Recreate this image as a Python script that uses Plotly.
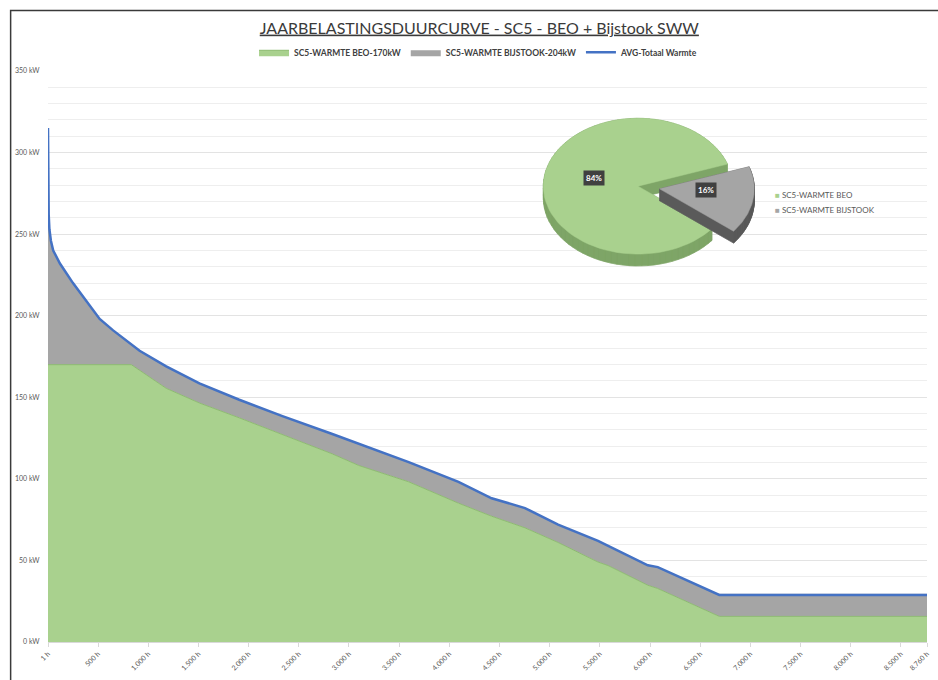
import math
import plotly.graph_objects as go

# ---- load duration curve data (hour rank -> kW) ----
hours_total = [1, 3, 8, 15, 30, 53, 120, 250, 450, 516, 650, 814, 914, 1179, 1510, 1907,
               2337, 2834, 3098, 3297, 3595, 4091, 4422, 4754, 5084, 5482, 5581, 5978,
               6077, 6690, 8760]
total_kw = [315, 285, 262, 253, 246, 240, 232, 220, 203, 198, 191, 183, 178.5, 169, 158.5,
            148.5, 138.5, 127.5, 121.7, 117.3, 110.3, 98.2, 88.1, 82.1, 72, 62, 59, 47,
            45.9, 28.8, 28.8]

hours_beo = [1, 831, 1179, 1510, 1907, 2337, 2834, 3098, 3297, 3595, 4091, 4422, 4754,
             5084, 5482, 5581, 5978, 6077, 6690, 8760]
beo_kw = [170, 170, 155.5, 146.5, 137.4, 127.3, 115.3, 108.2, 104.2, 98.2, 85.1, 77.1,
          70, 61, 49, 46.9, 34.8, 32.8, 15.7, 15.7]

# ---- energy share ----
share_labels = ["SC5-WARMTE BEO", "SC5-WARMTE BIJSTOOK"]
share_pct = [84, 16]

# ---- axis ticks ----
x_tickvals = [1, 500, 1000, 1500, 2000, 2500, 3000, 3500, 4000, 4500, 5000, 5500, 6000,
              6500, 7000, 7500, 8000, 8500, 8760]
x_ticktext = ["1 h", "500 h", "1.000 h", "1.500 h", "2.000 h", "2.500 h", "3.000 h",
              "3.500 h", "4.000 h", "4.500 h", "5.000 h", "5.500 h", "6.000 h", "6.500 h",
              "7.000 h", "7.500 h", "8.000 h", "8.500 h", "8.760 h"]

GREEN = "#a9d18e"
GREEN_EDGE = "#8dbb70"
GRAY = "#a5a5a5"
BLUE = "#4472c4"
FONT = "Lato"

W, H = 938, 680
L, R, T, B = 48, 8, 71, 29

fig = go.Figure()

fig.add_trace(go.Scatter(
    x=hours_beo, y=beo_kw, name="SC5-WARMTE BEO-170kW", mode="lines",
    fill="tozeroy", fillcolor=GREEN, line=dict(color=GREEN_EDGE, width=1),
    hoverinfo="skip"))
fig.add_trace(go.Scatter(
    x=hours_total, y=total_kw, name="SC5-WARMTE BIJSTOOK-204kW", mode="lines",
    fill="tonexty", fillcolor=GRAY, line=dict(color=GRAY, width=0),
    hoverinfo="skip"))
fig.add_trace(go.Scatter(
    x=hours_total, y=total_kw, name="AVG-Totaal Warmte", mode="lines",
    line=dict(color=BLUE, width=2.5), hoverinfo="skip"))

# ---- 3D-style pie drawn on a pixel-space overlay axis ----
cx, cy, rx, ry, depth = 640.0, 188.0, 95.0, 69.0, 12.0
start_deg = 19.0          # leading edge of the BIJSTOOK slice
explode = 22.0


def ring_pt(x0, y0, ang):
    a = math.radians(ang)
    return (x0 + rx * math.cos(a), y0 - ry * math.sin(a))


def slice_poly(x0, y0, a_from, a_to, steps=80):
    pts = [(x0, y0)]
    for i in range(steps + 1):
        pts.append(ring_pt(x0, y0, a_from + (a_to - a_from) * i / steps))
    return pts


def area(poly):
    s = 0.0
    for i in range(len(poly)):
        x1, y1 = poly[i]
        x2, y2 = poly[(i + 1) % len(poly)]
        s += x1 * y2 - x2 * y1
    return s / 2


def side_path(poly):
    parts = []
    bottom = [(x, y + depth) for x, y in poly]
    parts.append(bottom if area(bottom) > 0 else bottom[::-1])
    n = len(poly)
    for i in range(n):
        a, b = poly[i], poly[(i + 1) % n]
        q = [a, b, (b[0], b[1] + depth), (a[0], a[1] + depth)]
        ar = area(q)
        if abs(ar) < 1e-6:
            continue
        parts.append(q if ar > 0 else q[::-1])
    xs, ys = [], []
    for p in parts:
        xs += [v[0] for v in p] + [p[0][0], None]
        ys += [v[1] for v in p] + [p[0][1], None]
    return xs, ys


total_share = sum(share_pct)
sweep_small = 360.0 * share_pct[1] / total_share
# BEO slice runs counter-clockwise from start_deg; BIJSTOOK clockwise from start_deg
beo_poly = slice_poly(cx, cy, start_deg, start_deg + 360.0 - sweep_small)
mid = math.radians(start_deg - sweep_small / 2)
gx = cx + explode * math.cos(mid)
gy = cy - explode * math.sin(mid) * ry / rx
bij_poly = slice_poly(gx, gy, start_deg - sweep_small, start_deg)

for poly, top_col, side_col in [(beo_poly, GREEN, "#7ea567"),
                                (bij_poly, GRAY, "#5a5a5a")]:
    sx, sy = side_path(poly)
    fig.add_trace(go.Scatter(x=sx, y=sy, xaxis="x2", yaxis="y2", mode="lines",
                             fill="toself", fillcolor=side_col,
                             line=dict(color=side_col, width=0.5),
                             showlegend=False, hoverinfo="skip"))
    fig.add_trace(go.Scatter(x=[p[0] for p in poly] + [poly[0][0]],
                             y=[p[1] for p in poly] + [poly[0][1]],
                             xaxis="x2", yaxis="y2", mode="lines", fill="toself",
                             fillcolor=top_col, line=dict(color=top_col, width=0.5),
                             showlegend=False, hoverinfo="skip"))

# percentage labels
beo_mid = math.radians(start_deg + (360.0 - sweep_small) / 2)
lab_pos = [
    (cx + 0.47 * rx * math.cos(beo_mid), cy - 0.12 * ry * math.sin(beo_mid) - 7),
    (gx + 0.50 * rx * math.cos(mid), gy - 0.5 * ry * math.sin(mid) - 5),
]
for (lx, ly), pct in zip(lab_pos, share_pct):
    fig.add_annotation(x=lx, y=ly, xref="x2", yref="y2", text=f"<b>{pct}%</b>",
                       showarrow=False, bgcolor="#404040", borderpad=2,
                       font=dict(family=FONT, size=8, color="white"))

# pie legend
pie_cols = [GREEN, GRAY]
for i, (lbl, col) in enumerate(zip(share_labels, pie_cols)):
    fig.add_annotation(x=775, y=197 + 15 * i, xref="x2", yref="y2", xanchor="left",
                       text=f'<span style="color:{col}">■</span> {lbl}', showarrow=False,
                       font=dict(family=FONT, size=8, color="#595959"))

# outer frame of the chart object
def px_x(p):
    return (p - L) / (W - L - R)


def px_y(p):
    return (H - B - p) / (H - T - B)


fig.add_shape(type="rect", xref="paper", yref="paper",
              x0=px_x(10.5), x1=px_x(960), y0=px_y(700), y1=px_y(9.5),
              line=dict(color="#3a3a3a", width=1.5), fillcolor="rgba(0,0,0,0)",
              layer="above")

fig.update_layout(
    width=W, height=H,
    margin=dict(l=L, r=R, t=T, b=B),
    paper_bgcolor="white", plot_bgcolor="white",
    font=dict(family=FONT, color="#595959"),
    title=dict(text="<u>JAARBELASTINGSDUURCURVE - SC5 - BEO + Bijstook SWW</u>",
               x=0.511, xanchor="center", y=1 - 28 / H, yanchor="middle",
               font=dict(family=FONT, size=16, color="#3a3a3a")),
    legend=dict(orientation="h", x=px_x(480), xanchor="center", y=px_y(52),
                yanchor="middle", traceorder="normal",
                font=dict(family=FONT, size=8.5, color="#404040", weight="bold"),
                itemwidth=30, bgcolor="rgba(0,0,0,0)"),
    showlegend=True,
    xaxis=dict(range=[1, 8760], tickvals=x_tickvals, ticktext=x_ticktext,
               tickangle=-45, tickfont=dict(family=FONT, size=7, color="#595959"),
               showgrid=False, showline=True, linecolor="#d9d9d9", linewidth=1,
               ticks="outside", ticklen=4, tickcolor="#d9d9d9", zeroline=False),
    yaxis=dict(range=[0, 350], dtick=50, ticksuffix=" kW",
               tickfont=dict(family=FONT, size=7, color="#595959"),
               showgrid=True, gridcolor="#e3e3e3", gridwidth=1,
               minor=dict(dtick=10, showgrid=True, gridcolor="#eeeeee", gridwidth=1),
               zeroline=False, showline=False, ticks="outside", ticklen=6,
               tickcolor="rgba(0,0,0,0)"),
    xaxis2=dict(range=[L, W - R], overlaying="x", visible=False, fixedrange=True),
    yaxis2=dict(range=[H - B, T], overlaying="y", visible=False, fixedrange=True),
)

fig.write_html("out.html")
